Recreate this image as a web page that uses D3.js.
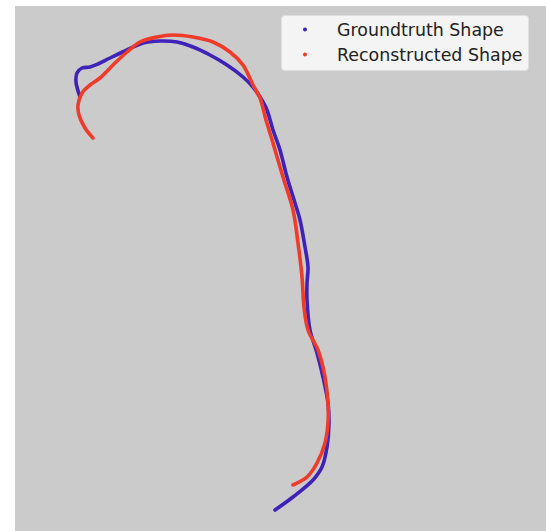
<!DOCTYPE html>
<html><head><meta charset="utf-8">
<script src="https://cdn.jsdelivr.net/npm/d3@7"></script>
<style>html,body{margin:0;padding:0;background:#fff;}svg{display:block;}</style>
</head><body>
<svg id="chart" width="546" height="531"></svg>
<script>
const seriesNames = ["Groundtruth Shape", "Reconstructed Shape"];
const groundX = [65,61,62,67,75,83,95,112,128,145,162,178,195,212,228,238,248,252,258,265,272,280,285,290,293,292,292,295,302,308,313,314,312,307,298,278,260];
const groundY = [434,449,458,463,464,467,473,481,488,490,489,484,476,466,454,444,429,421,401,381,354,328,311,284,264,248,231,201,178,154,128,108,84,64,51,34,21];
const reconX = [78,70,64,63,67,75,85,98,112,125,142,158,178,198,215,228,238,245,251,258,268,278,283,287,289,293,303,310,313,313,310,302,292,278];
const reconY = [393,403,416,426,438,446,453,466,479,489,494,496,494,489,479,466,446,433,411,388,354,321,288,254,224,201,181,154,128,108,88,68,54,46];
const colors = ["#3f22b8", "#f03a2a"];

const svg = d3.select("#chart");
const plot = {left: 15, top: 6, right: 546, bottom: 531};
svg.append("rect").attr("x", plot.left).attr("y", plot.top)
  .attr("width", plot.right - plot.left).attr("height", plot.bottom - plot.top)
  .attr("fill", "#cbcbcb");

const x = d3.scaleLinear().domain([0, 531]).range([plot.left, plot.right]);
const y = d3.scaleLinear().domain([0, 525]).range([plot.bottom, plot.top]);

const series = [
  groundX.map((v, i) => [v, groundY[i]]),
  reconX.map((v, i) => [v, reconY[i]])
];
const line = d3.line().x(d => x(d[0])).y(d => y(d[1])).curve(d3.curveCatmullRom.alpha(0.5));
series.forEach((pts, k) => {
  svg.append("path").datum(pts).attr("d", line)
    .attr("fill", "none").attr("stroke", colors[k])
    .attr("stroke-width", 3.6).attr("stroke-linecap", "round").attr("stroke-linejoin", "round");
});

// legend
const lg = svg.append("g");
lg.append("rect").attr("x", 281.5).attr("y", 15.5).attr("width", 247).attr("height", 55)
  .attr("rx", 3).attr("fill", "#f4f4f4").attr("stroke", "#dedede").attr("stroke-width", 1);
seriesNames.forEach((name, i) => {
  const cy = 29.5 + i * 25;
  lg.append("circle").attr("cx", 305).attr("cy", cy).attr("r", 2).attr("fill", colors[i]);
  lg.append("text").attr("x", 337).attr("y", cy).attr("dy", "0.36em")
    .attr("font-family", "DejaVu Sans, sans-serif").attr("font-size", 17.4)
    .attr("fill", "#222").text(name);
});
</script>
</body></html>
